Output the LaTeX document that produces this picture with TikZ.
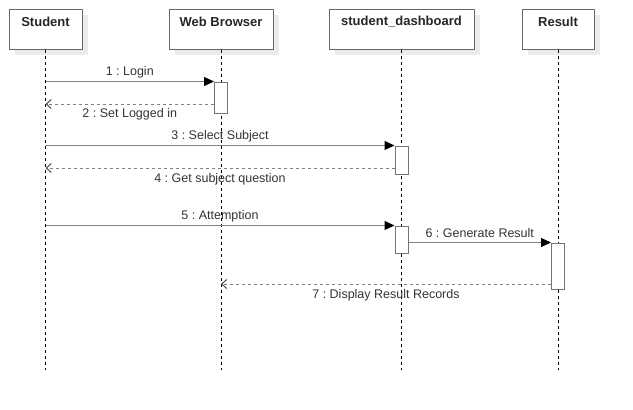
\documentclass[tikz,border=0pt]{standalone}
\usepackage{fontspec}
\setmainfont{Liberation Sans}
\usetikzlibrary{arrows.meta,shadows}
\frenchspacing
\begin{document}
\begin{tikzpicture}[x=1pt,y=-1pt,
	actor/.style={draw=black!60,fill=white,line width=1pt,minimum height=40pt,inner sep=0pt,
		drop shadow={shadow xshift=6pt,shadow yshift=-6pt,fill=black!8,opacity=1}},
	actorname/.style={font=\fontsize{13}{15}\selectfont\bfseries,text=black!85},
	act/.style={draw=black!55,fill=white,line width=1pt,minimum width=13pt,inner sep=0pt},
	life/.style={black,dash pattern=on 3pt off 3pt,line width=0.7pt},
	call/.style={black!50,line width=1pt,-{Triangle[length=10pt,width=9pt,black]}},
	reply/.style={black!50,line width=1pt,dash pattern=on 3pt off 3pt,-{Straight Barb[length=5pt,width=9pt,black!70]}},
	msg/.style={font=\fontsize{12.5}{14}\selectfont,text=black!80,midway}]
	\useasboundingbox (0,0) rectangle (633,410);
	% objects
	\node[actor,minimum width=73pt] (student) at (45.5,29) {};
	\node[actor,minimum width=104pt] (browser) at (221,29) {};
	\node[actor,minimum width=145pt] (dash) at (401.5,29) {};
	\node[actor,minimum width=72pt] (result) at (558,29) {};
	\node[actorname] at ([yshift=-13pt]student.north) {Student};
	\node[actorname] at ([yshift=-13pt]browser.north) {Web Browser};
	\node[actorname] at ([yshift=-13pt]dash.north) {student\_dashboard};
	\node[actorname] at ([yshift=-13pt]result.north) {Result};
	% lifelines
	\draw[life] (student.south) -- ++(0,320);
	\draw[life] (browser.south) -- ++(0,320);
	\draw[life] (dash.south) -- ++(0,320);
	\draw[life] (result.south) -- ++(0,320);
	% activations
	\node[act,minimum height=31pt] (a1) at (221,97.5) {};
	\node[act,minimum height=28pt] (a2) at (401.5,160) {};
	\node[act,minimum height=27pt] (a3) at (401.5,239.5) {};
	\node[act,minimum height=46pt] (a4) at (558,266) {};
	\coordinate (s2) at (45.5,104);
	\coordinate (s4) at (45.5,168);
	\coordinate (b7) at (221,284);
	% messages
	\draw[call] (student.south |- a1.north) -- (a1.north west) node[msg,yshift=9pt] {1 : Login};
	\draw[reply] (a1.west |- s2) -- (s2) node[msg,yshift=-10.5pt] {2 : Set Logged in};
	\draw[call] (student.south |- a2.north) -- (a2.north west) node[msg,yshift=9.5pt] {3 : Select Subject};
	\draw[reply] (a2.west |- s4) -- (s4) node[msg,yshift=-11.5pt] {4 : Get subject question};
	\draw[call] (student.south |- a3.north) -- (a3.north west) node[msg,yshift=9.5pt] {5 : Attemption};
	\draw[call] (a3.east |- a4.north) -- (a4.north west) node[msg,yshift=9.5pt] {6 : Generate Result};
	\draw[reply] (a4.west |- b7) -- (b7) node[msg,yshift=-11pt] {7 : Display Result Records};
\end{tikzpicture}
\end{document}
